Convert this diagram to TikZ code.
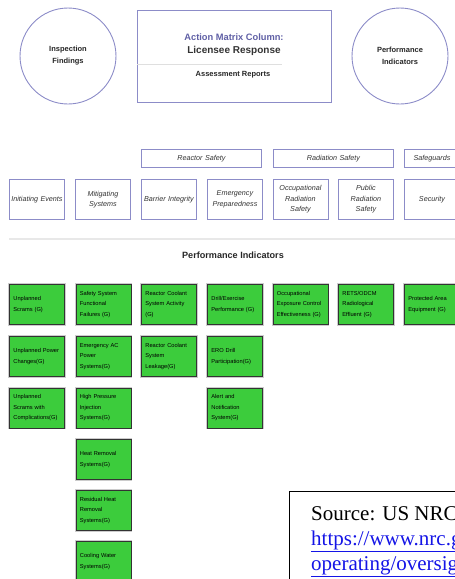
\documentclass[tikz,border=0pt]{standalone}
\usepackage{fontspec}
\setmainfont{Liberation Sans}
\newfontfamily\srcserif{Liberation Serif}
\definecolor{rim}{RGB}{140,140,200}
\definecolor{titleblue}{RGB}{95,95,165}
\definecolor{pigreen}{RGB}{60,204,60}
\definecolor{linkblue}{RGB}{20,20,230}
\begin{document}
\begin{tikzpicture}[x=1pt,y=-1pt,
  circ/.style={circle, draw=rim, line width=0.9pt, minimum size=96pt, inner sep=0pt,
    font=\fontsize{7.5}{12}\selectfont\bfseries, align=center, text=black!85},
  catbox/.style={draw=rim, line width=0.9pt, minimum width=55pt, minimum height=40pt,
    inner sep=0pt, anchor=north west, align=center, text width=55pt,
    font=\fontsize{7.2}{10.5}\selectfont\itshape, text=black!80},
  hdrbox/.style={catbox, minimum height=18pt},
  gbox/.style={fill=pigreen, draw=black!80, line width=0.8pt,
    preaction={draw=gray!40, line width=2.4pt}, anchor=north west,
    minimum height=40pt, text width=47pt, inner xsep=4pt, inner ysep=0pt,
    align=left, font=\fontsize{5.7}{10.5}\selectfont},
  lbl/.style={inner sep=0pt, font=\fontsize{7.5}{9}\selectfont\bfseries, text=black!85},
  srctext/.style={anchor=base west, inner sep=0pt, font=\srcserif\fontsize{21}{25}\selectfont}
]
\useasboundingbox (0,0) rectangle (455,579);
\clip (0,0) rectangle (455,579);

% top row
\node[circ] (insp) at (68,56) {Inspection\\Findings};
\node[circ] (perf) at (400,56) {Performance\\Indicators};
\node[draw=rim, line width=0.9pt, minimum width=194pt, minimum height=92pt, inner sep=0pt, anchor=north west] (am) at (137,10) {};
\node[inner sep=0pt, font=\fontsize{9.3}{11}\selectfont\bfseries, text=titleblue] (amt) at (234,37) {Action Matrix Column:};
\node[inner sep=0pt, font=\fontsize{10}{12}\selectfont\bfseries, text=black!80] (lr) at (234,51) {Licensee Response};
\coordinate (sepL) at (137,64);
\coordinate (sepR) at (282,64);
\draw[gray!25, line width=0.8pt] (sepL) -- (sepR);
\node[lbl] (ar) at (233,75) {Assessment Reports};

% cornerstone headers
\node[hdrbox] (rs) at (141,149) [minimum width=120pt, text width=120pt] {Reactor Safety};
\node[hdrbox] (rads) at (273,149) [minimum width=120pt, text width=120pt] {Radiation Safety};
\node[hdrbox] (sg) at (404,149) {Safeguards};

% cornerstones
\node[catbox] (ie) at (9,179) {Initiating Events};
\node[catbox] (ms) at (75,179) {Mitigating\\Systems};
\node[catbox] (bi) at (141,179) {Barrier Integrity};
\node[catbox] (ep) at (207,179) {Emergency\\Preparedness};
\node[catbox] (ors) at (272.5,179) {Occupational\\Radiation\\Safety};
\node[catbox] (prs) at (338,179) {Public\\Radiation\\Safety};
\node[catbox] (sec) at (404,179) {Security};

% divider
\coordinate (divL) at (9,239);
\coordinate (divR) at (455,239);
\draw[gray!18, line width=1.5pt] (divL) -- (divR);
\node[lbl, font=\fontsize{9.1}{11}\selectfont\bfseries] (pih) at (233,255) {Performance Indicators};

% performance indicators
\node[gbox] (g11) at (9,284) {Unplanned\\Scrams (G)};
\node[gbox] (g12) at (9,336) {Unplanned Power\\Changes(G)};
\node[gbox] (g13) at (9,387.5) {Unplanned\\Scrams with\\Complications(G)};

\node[gbox] (g21) at (75.5,284) {Safety System\\Functional\\Failures (G)};
\node[gbox] (g22) at (75.5,336) {Emergency AC\\Power\\Systems(G)};
\node[gbox] (g23) at (75.5,387.5) {High Pressure\\Injection\\Systems(G)};
\node[gbox] (g24) at (75.5,439) {Heat Removal\\Systems(G)};
\node[gbox] (g25) at (75.5,490) {Residual Heat\\Removal\\Systems(G)};
\node[gbox] (g26) at (75.5,541) {Cooling Water\\Systems(G)};

\node[gbox] (g31) at (141,284) {Reactor Coolant\\System Activity\\(G)};
\node[gbox] (g32) at (141,336) {Reactor Coolant\\System\\Leakage(G)};

\node[gbox] (g41) at (207,284) {Drill/Exercise\\Performance (G)};
\node[gbox] (g42) at (207,336) {ERO Drill\\Participation(G)};
\node[gbox] (g43) at (207,387.5) {Alert and\\Notification\\System(G)};

\node[gbox] (g51) at (272.5,284) {Occupational\\Exposure Control\\Effectiveness (G)};
\node[gbox] (g61) at (338,284) {RETS/ODCM\\Radiological\\Effluent (G)};
\node[gbox] (g71) at (404,284) {Protected Area\\Equipment (G)};

% source box
\node[draw=black, line width=1.3pt, anchor=north west, minimum width=200pt, minimum height=120pt, inner sep=0pt] (src) at (289,491) {};
\node[srctext] (s1) at (311,520) {Source: US NRC};
\node[srctext, text=linkblue] (s2) at (311,545) {\underline{https://www.nrc.g}};
\node[srctext, text=linkblue] (s3) at (311,570) {\underline{operating/oversig}};
\end{tikzpicture}
\end{document}
